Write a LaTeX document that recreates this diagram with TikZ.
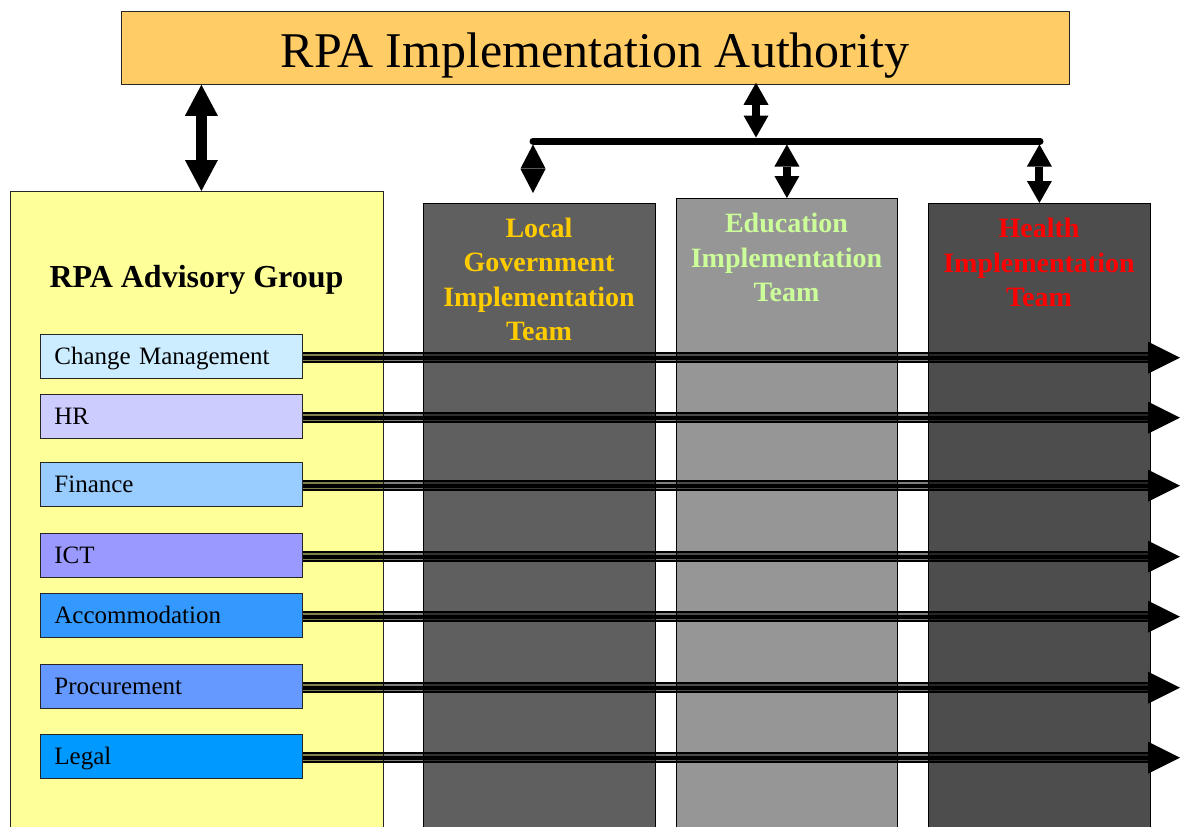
\documentclass[tikz,border=0pt]{standalone}
\usepackage{fontspec}
\setmainfont{Liberation Serif}
\usetikzlibrary{arrows.meta,calc}

\definecolor{authority}{HTML}{FFCC66}
\definecolor{advisory}{HTML}{FFFF99}
\definecolor{localgrey}{HTML}{5F5F5F}
\definecolor{edugrey}{HTML}{969696}
\definecolor{healthgrey}{HTML}{4D4D4D}
\definecolor{localtxt}{HTML}{FFCC00}
\definecolor{edutxt}{HTML}{CCFF99}
\definecolor{healthtxt}{HTML}{FF0000}
\definecolor{cmfill}{HTML}{CCECFF}
\definecolor{hrfill}{HTML}{CCCCFF}
\definecolor{finfill}{HTML}{99CCFF}
\definecolor{ictfill}{HTML}{9999FF}
\definecolor{accfill}{HTML}{3399FF}
\definecolor{procfill}{HTML}{6699FF}
\definecolor{legalfill}{HTML}{0099FF}

\begin{document}
\begin{tikzpicture}[x=1pt,y=-1pt,
  box/.style={draw=black!85, line width=0.8pt, inner sep=0pt, anchor=north west},
  teambox/.style={box, draw=black, minimum height=640pt},
  teamtext/.style={align=center, font=\bfseries\fontsize{28}{34.3}\selectfont},
  unitbox/.style={box, minimum width=262pt, minimum height=43.5pt,
    text width=234pt, inner xsep=14pt, align=left,
    text height=16.5pt, text depth=0pt, font=\fontsize{25}{30}\selectfont},
  fatlink/.style={line width=11.6pt,
    {Triangle[width=33pt,length=31pt,line width=0pt]}-{Triangle[width=33pt,length=31pt,line width=0pt]}},
  slimlink/.style={line width=8pt,
    {Triangle[width=25pt,length=#1,line width=0pt]}-{Triangle[width=25pt,length=#1,line width=0pt]}},
  slimlink/.default=22pt,
]
\useasboundingbox (0,0) rectangle (1181,827);

% authority and the four columns
\node[box, fill=authority, minimum width=948pt, minimum height=73pt] (T) at (121,11) {};
\node[anchor=base, font=\fontsize{50}{60}\selectfont] (Ttext) at (595,67) {RPA Implementation Authority};

\node[box, fill=advisory, minimum width=373pt, minimum height=650pt] (A) at (10,191) {};
\node[teambox, fill=localgrey, minimum width=232pt] (L) at (423,203) {};
\node[teambox, fill=edugrey, minimum width=221pt] (E) at (676,198) {};
\node[teambox, fill=healthgrey, minimum width=222pt] (H) at (928,203) {};

\node[anchor=base, font=\bfseries\fontsize{32}{38}\selectfont] (Atext) at (196.5,287) {RPA Advisory Group};
\node[teamtext, text=localtxt] (Ltext) at (539,279.5) {Local\\Government\\Implementation\\Team};
\node[teamtext, text=edutxt] (Etext) at (786.5,257.5) {Education\\Implementation\\Team};
\node[teamtext, text=healthtxt] (Htext) at (1039,262.5) {Health\\Implementation\\Team};

% advisory sub-groups
\node[unitbox, fill=cmfill]    (cm)    at (40,334) {Change Management};
\node[unitbox, fill=hrfill]    (hr)    at (40,394) {HR};
\node[unitbox, fill=finfill]   (fin)   at (40,462) {Finance};
\node[unitbox, fill=ictfill]   (ict)   at (40,533) {ICT};
\node[unitbox, fill=accfill]   (acc)   at (40,593) {Accommodation};
\node[unitbox, fill=procfill]  (proc)  at (40,664) {Procurement};
\node[unitbox, fill=legalfill] (legal) at (40,734) {Legal};

% striped links running across all teams
\foreach \u in {cm,hr,fin,ict,acc,proc,legal}{
  \coordinate (\u-s) at ([yshift=-1.5pt]\u.east);
  \coordinate (\u-e) at (\u-s -| 1180,0);
  \draw[black, opacity=0.5, line width=11.6pt, shorten >=32pt] (\u-s) -- (\u-e);
  \draw[line width=2.4pt, shorten >=32pt] ([yshift=4.6pt]\u-s) -- ([yshift=4.6pt]\u-e);
  \draw[line width=2.4pt, shorten >=32pt] ([yshift=-4.6pt]\u-s) -- ([yshift=-4.6pt]\u-e);
  \draw[line width=4pt, -{Triangle[width=32pt,length=32pt,line width=0pt]}] (\u-s) -- (\u-e);
}

% authority to advisory group
\draw[fatlink] ($(T.south -| A.north)+(4.5,0)$) -- ($(A.north)+(4.5,0)$);

% authority to the implementation teams
\coordinate (hub)  at (756,141);
\coordinate (barL) at (533,141);
\coordinate (barR) at (1040,141);
\draw[line width=7pt, line cap=round] (barL) -- (barR);
\draw[slimlink] ([yshift=2pt]T.south -| hub) -- ([yshift=3.5pt]hub);
\draw[slimlink=24pt] ([yshift=-3.5pt]barL) -- ($(barL |- L.north)+(0,-10)$);
\draw[slimlink] ([yshift=-3.5pt]barL -| E.north) -- (E.north);
\draw[slimlink] ([yshift=-3.5pt]barL -| H.north) -- (H.north);
\end{tikzpicture}
\end{document}
